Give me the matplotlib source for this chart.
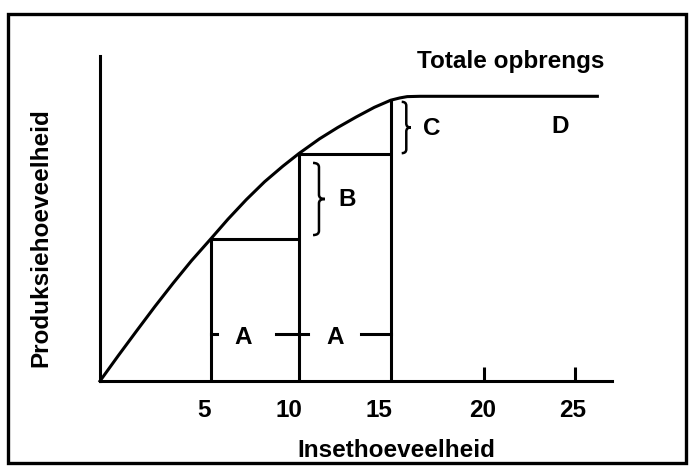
import matplotlib.pyplot as plt
from matplotlib.path import Path
from matplotlib.patches import PathPatch, Rectangle

plt.rcParams['font.family'] = ['Liberation Sans', 'DejaVu Sans']
plt.rcParams['font.weight'] = 'bold'

# total product curve
curve_x = [0, 1, 2, 3, 4, 5, 6.07, 7, 8, 9, 10, 10.88, 12, 13, 14, 15, 15.9, 16.4, 16.8, 17.5, 27.2]
curve_y = [0, 7.8, 15.4, 22.9, 30.1, 37.0, 43.8, 49.8, 55.8, 61.3, 66.1, 70.0, 74.5, 78.0,
           81.2, 84.2, 86.4, 87.1, 87.5, 87.6, 87.6]

# input levels with their output
input_x = [6.07, 10.88, 15.9]
output_y = [43.8, 70.0, 86.4]

# extra small ticks on the x axis
tick_marks = [21.0, 26.0]
tick_pos = [5.69, 10.31, 15.23, 20.94, 25.86]
tick_labels = ['5', '10', '15', '20', '25']

# the dashed "A" markers
a_dashes = [(6.07, 6.4), (9.65, 11.37), (14.3, 15.9)]
a_label_x = [7.81, 12.84]

LW = 2.2
FS = 17.5


def brace(ax, x, y0, y1, w, r):
    xm = x + w * 0.5
    xt = x + w
    ym = (y0 + y1) / 2
    verts = [(x, y1), (xm, y1), (xm, y1 - r),
             (xm, ym + r),
             (xm, ym), (xt, ym),
             (xm, ym), (xm, ym - r),
             (xm, y0 + r),
             (xm, y0), (x, y0)]
    codes = [Path.MOVETO, Path.CURVE3, Path.CURVE3,
             Path.LINETO,
             Path.CURVE3, Path.CURVE3,
             Path.CURVE3, Path.CURVE3,
             Path.LINETO,
             Path.CURVE3, Path.CURVE3]
    ax.add_patch(PathPatch(Path(verts, codes), fill=False, lw=1.8,
                           edgecolor='black', clip_on=False))


fig = plt.figure(figsize=(6.93, 4.70), dpi=100)
ax = fig.add_axes([100 / 693, 89 / 470, 512 / 693, 325 / 470])
ax.set_xlim(0, 28)
ax.set_ylim(0, 100)

for s in ['top', 'right']:
    ax.spines[s].set_visible(False)
for s in ['left', 'bottom']:
    ax.spines[s].set_linewidth(LW)

ax.plot(curve_x, curve_y, color='black', lw=LW, solid_joinstyle='round', clip_on=False)

# verticals from the x axis up to the curve
ax.vlines(input_x, 0, output_y, color='black', lw=LW)
# horizontal steps
ax.hlines(output_y[:2], input_x[:2], input_x[1:], color='black', lw=LW)

ax.vlines(tick_marks, 0, 4.3, color='black', lw=LW)

for x0, x1 in a_dashes:
    ax.plot([x0, x1], [14.4, 14.4], color='black', lw=LW)
for x in a_label_x:
    ax.text(x, 13.4, 'A', ha='center', va='center', fontsize=FS, fontweight='bold')

brace(ax, 11.65, 44.9, 67.1, 0.65, 1.3)
brace(ax, 16.5, 70.1, 85.9, 0.5, 1.2)

ax.text(13.49, 55.7, 'B', ha='center', va='center', fontsize=FS, fontweight='bold')
ax.text(18.13, 77.8, 'C', ha='center', va='center', fontsize=FS, fontweight='bold')
ax.text(25.15, 78.2, 'D', ha='center', va='center', fontsize=FS, fontweight='bold')
ax.text(22.47, 98.2, 'Totale opbrengs', ha='center', va='center', fontsize=FS, fontweight='bold')

ax.set_xticks(tick_pos)
ax.set_xticklabels(tick_labels, fontsize=FS, fontweight='bold')
ax.tick_params(axis='x', length=0, pad=13)
ax.set_yticks([])

ax.set_xlabel('Insethoeveelheid', fontsize=FS, fontweight='bold')
ax.xaxis.set_label_coords(0.578, -0.215)
ax.xaxis.label.set_va('center')
ax.set_ylabel('Produksiehoeveelheid', fontsize=FS, fontweight='bold')
ax.yaxis.set_label_coords(-0.115, 0.44)
ax.yaxis.label.set_va('center')

# outer frame
fig.patches.append(Rectangle((7.5 / 693, 7.5 / 470), 678 / 693, 449 / 470,
                             transform=fig.transFigure, fill=False,
                             edgecolor='black', lw=2.4))

fig.savefig('out.png', dpi=100)
